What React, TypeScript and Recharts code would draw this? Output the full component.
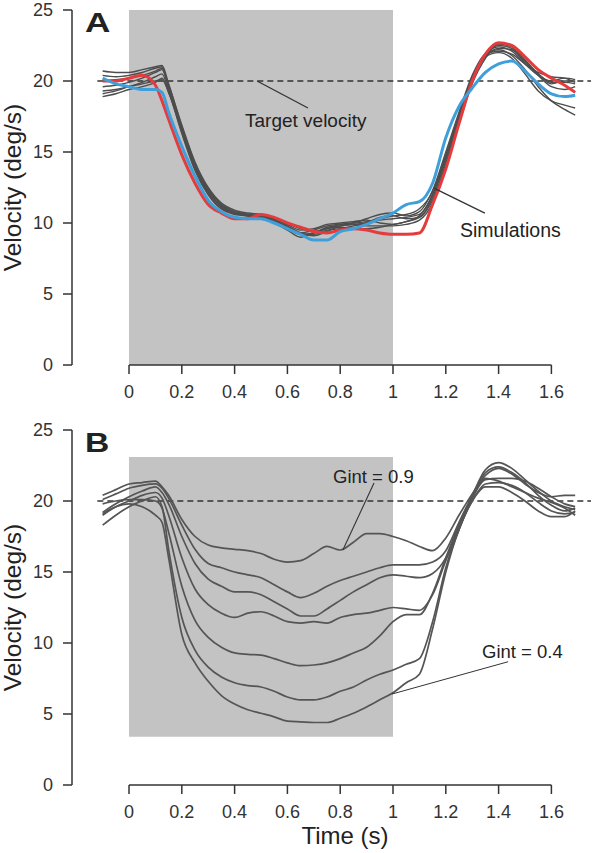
import React from 'react';
import { LineChart, Line, XAxis, YAxis, ReferenceArea, ReferenceLine } from 'recharts';

const TIME = [-0.1,-0.05,0,0.05,0.1,0.125,0.15,0.2,0.25,0.3,0.35,0.4,0.45,0.5,0.55,0.6,0.65,0.7,0.75,0.8,0.85,0.9,0.95,1.0,1.05,1.1,1.15,1.2,1.25,1.3,1.35,1.4,1.45,1.5,1.55,1.6,1.65,1.69];

const X_TICKS = [0,0.2,0.4,0.6,0.8,1,1.2,1.4,1.6];
const Y_TICKS = [0,5,10,15,20,25];

// Panel A: simulations (gray), red and blue highlighted traces
const A_GRAY_1 = [20.7,20.6,20.6,20.8,21.0,21.1,19.8,16.8,14.2,12.4,11.3,10.8,10.6,10.5,10.4,10.0,9.6,9.4,9.6,9.9,10.0,10.1,10.3,10.5,10.6,11.0,12.2,14.8,17.6,20.3,21.9,22.4,22.1,21.2,20.4,20.0,20.2,20.1];
const A_GRAY_2 = [20.4,20.3,20.4,20.6,20.9,21.0,19.6,16.6,14.0,12.2,11.2,10.7,10.5,10.4,10.3,9.8,9.3,9.1,9.4,9.8,9.9,10.0,10.2,10.3,10.4,10.6,12.0,14.6,17.4,20.1,21.7,22.3,22.2,21.3,20.5,19.9,19.9,19.8];
const A_GRAY_3 = [20.0,20.1,20.2,20.4,20.7,20.9,19.7,16.9,14.3,12.5,11.4,10.9,10.7,10.6,10.3,9.9,9.5,9.6,9.9,10.0,10.1,10.2,10.0,9.9,10.1,10.4,11.6,14.2,17.2,20.0,21.8,22.5,22.3,21.4,20.4,19.6,19.4,19.6];
const A_GRAY_4 = [19.6,19.7,19.9,20.2,20.6,20.8,19.5,16.5,13.9,12.1,11.1,10.7,10.6,10.5,10.2,9.7,9.2,9.3,9.7,9.8,9.9,9.8,9.8,9.8,9.9,10.2,11.4,14.0,17.0,19.8,21.6,22.6,22.4,21.5,20.5,19.8,20.0,20.0];
const A_GRAY_5 = [19.3,19.4,19.6,19.9,20.3,20.5,19.3,16.3,13.7,12.0,11.0,10.6,10.5,10.4,10.1,9.6,9.2,9.2,9.5,9.6,9.8,10.0,10.4,10.5,10.3,10.4,11.8,14.4,17.3,20.1,21.8,22.2,21.8,20.8,19.6,18.6,18.0,17.6];
const A_GRAY_6 = [19.1,19.3,19.6,19.8,20.0,20.1,19.2,16.4,13.8,12.0,11.0,10.7,10.5,10.3,10.0,9.5,9.0,9.3,9.6,9.7,9.6,9.6,9.7,9.9,10.1,10.5,12.0,14.7,17.5,20.2,21.7,22.0,21.6,20.5,19.3,18.6,18.3,18.1];
const A_GRAY_7 = [18.9,19.1,19.4,19.6,19.9,20.2,19.2,16.7,14.1,12.3,11.2,10.8,10.6,10.4,10.2,9.7,9.3,9.5,9.8,9.9,10.0,10.3,10.6,10.7,10.5,10.8,12.3,15.0,17.8,20.4,21.9,22.1,21.9,21.2,20.6,20.3,20.2,19.9];
const A_RED = [20.0,20.0,20.2,20.4,19.7,18.6,17.3,14.8,12.8,11.3,10.7,10.3,10.3,10.6,10.4,10.0,9.7,9.4,9.3,9.5,9.6,9.5,9.3,9.2,9.2,9.3,11.3,13.8,17.0,20.0,21.9,22.7,22.5,21.7,20.8,20.2,19.7,19.2];
const A_BLUE = [20.2,19.8,19.6,19.4,19.4,19.2,17.8,15.4,13.3,11.6,10.8,10.4,10.3,10.3,10.0,9.6,9.2,8.8,8.8,9.4,9.6,9.9,10.3,10.7,11.3,11.5,12.8,16.0,18.2,19.5,20.6,21.2,21.4,20.7,19.8,19.1,18.9,19.0];

// Panel B: Gint series from 0.9 (top) down to 0.4 (bottom)
const B_GINT_1 = [20.4,20.8,21.2,21.3,21.4,21.0,20.4,18.7,17.5,16.9,16.7,16.6,16.5,16.3,15.9,15.7,15.8,16.3,16.8,16.55,17.1,17.7,17.7,17.5,17.2,16.8,16.5,17.4,19.0,20.5,21.8,22.3,21.9,21.2,20.6,20.3,20.4,20.4];
const B_GINT_2 = [20.1,20.5,20.9,21.1,21.2,20.9,20.2,18.3,16.6,15.6,15.3,15.0,14.8,14.6,14.1,13.6,13.2,13.5,14.0,14.4,14.7,15.0,15.3,15.5,15.5,15.5,15.7,16.5,18.5,20.4,22.2,22.7,22.3,21.5,20.7,20.0,19.6,19.4];
const B_GINT_3 = [19.2,19.8,20.3,20.7,21.0,20.6,19.8,17.5,15.6,14.5,14.0,13.6,13.6,13.4,12.9,12.4,11.9,11.9,12.4,13.0,13.6,14.1,14.6,14.8,14.7,14.6,14.9,16.0,18.2,20.3,22.0,22.4,22.0,21.3,20.4,19.7,19.3,19.5];
const B_GINT_4 = [19.0,19.6,20.0,20.4,20.6,20.2,19.0,16.0,13.8,12.7,12.1,11.8,12.1,12.2,11.9,11.5,11.4,11.5,11.4,11.8,12.0,12.1,12.3,12.5,12.4,12.3,13.4,15.8,18.0,20.2,21.5,21.6,21.6,21.4,20.9,20.3,19.8,19.6];
const B_GINT_5 = [19.8,20.0,20.1,20.1,20.0,19.5,17.8,14.0,11.6,10.4,9.7,9.3,9.2,9.15,8.9,8.6,8.4,8.45,8.6,8.9,9.3,9.7,10.5,11.5,12.0,12.0,13.5,16.0,18.3,20.2,21.6,21.4,21.0,20.6,20.2,19.9,19.5,19.0];
const B_GINT_6 = [18.3,19.0,19.6,20.0,20.3,19.6,16.6,11.8,9.5,8.3,7.6,7.2,7.0,6.9,6.6,6.2,6.0,6.0,6.2,6.6,6.9,7.4,7.8,8.1,8.5,8.9,11.5,15.3,18.0,20.0,21.2,21.3,21.1,20.6,19.9,19.3,19.1,19.2];
const B_GINT_7 = [19.1,19.6,19.8,19.6,19.0,18.5,16.0,10.6,8.6,7.3,6.3,5.7,5.3,5.05,4.8,4.5,4.45,4.4,4.4,4.7,5.05,5.5,6.0,6.5,7.2,7.8,11.0,15.0,18.0,20.0,21.0,21.0,20.6,20.0,19.3,18.9,18.9,19.3];

const A_GRAY = [A_GRAY_1, A_GRAY_2, A_GRAY_3, A_GRAY_4, A_GRAY_5, A_GRAY_6, A_GRAY_7];
const B_GINT = [B_GINT_1, B_GINT_2, B_GINT_3, B_GINT_4, B_GINT_5, B_GINT_6, B_GINT_7];

const rowsA = TIME.map((t, i) => {
  const r: any = { t, red: A_RED[i], blue: A_BLUE[i] };
  A_GRAY.forEach((s, k) => { r['g' + k] = s[i]; });
  return r;
});
const rowsB = TIME.map((t, i) => {
  const r: any = { t };
  B_GINT.forEach((s, k) => { r['b' + k] = s[i]; });
  return r;
});

const FONT = '"Liberation Sans", Arial, Helvetica, sans-serif';
const AXIS = '#333333';
const GRAY_BG = '#c2c3c2';
const X_DOMAIN = [-0.216, 1.75];

function axes(xHeight: number) {
  return [
    <XAxis key="x" dataKey="t" type="number" domain={X_DOMAIN} allowDataOverflow ticks={X_TICKS}
      interval={0} axisLine={false} tickLine={{ stroke: AXIS, strokeWidth: 1.5 }} tickSize={9} tickMargin={11}
      height={xHeight} tick={{ fill: AXIS, fontSize: 18, fontFamily: FONT }} tickFormatter={(v: number) => String(v)} />,
    <YAxis key="y" type="number" domain={[0, 25]} allowDataOverflow ticks={Y_TICKS} interval={0} width={72}
      axisLine={{ stroke: AXIS, strokeWidth: 1.5 }} tickLine={{ stroke: AXIS, strokeWidth: 1.5 }} tickSize={9}
      tickMargin={10} tick={{ fill: AXIS, fontSize: 18, fontFamily: FONT }} />,
  ];
}

export default function App() {
  return (
    <div style={{ position: 'absolute', left: 0, top: 0, width: 592, height: 853, background: '#fff', fontFamily: FONT }}>
      <div style={{ position: 'absolute', left: 0, top: 0 }}>
        <LineChart width={592} height={412} data={rowsA} margin={{ top: 10, right: 1, bottom: 0, left: 0 }}>
          {axes(47)}
          <ReferenceArea x1={0} x2={1} y1={0} y2={25} fill={GRAY_BG} fillOpacity={1} stroke="none" />
          <ReferenceLine segment={[{ x: 0, y: 0 }, { x: 1.6, y: 0 }]} stroke={AXIS} strokeWidth={1.5} />
          <ReferenceLine segment={[{ x: -0.12, y: 20 }, { x: 1.75, y: 20 }]} stroke={AXIS} strokeWidth={1.5} strokeDasharray="6 4" />
          {A_GRAY.map((_, k) => (
            <Line key={'g' + k} dataKey={'g' + k} type="monotone" stroke="#4d4d4d" strokeWidth={1.4} dot={false} isAnimationActive={false} />
          ))}
          <Line dataKey="red" type="monotone" stroke="#e63b3c" strokeWidth={3} dot={false} isAnimationActive={false} />
          <Line dataKey="blue" type="monotone" stroke="#3f9fda" strokeWidth={3} dot={false} isAnimationActive={false} />
          <ReferenceLine segment={[{ x: 0.485, y: 20.0 }, { x: 0.678, y: 18.1 }]} stroke={AXIS} strokeWidth={1.3} />
          <ReferenceLine segment={[{ x: 1.155, y: 12.46 }, { x: 1.348, y: 10.7 }]} stroke={AXIS} strokeWidth={1.3} />
        </LineChart>
      </div>
      <div style={{ position: 'absolute', left: 0, top: 420 }}>
        <LineChart width={592} height={433} data={rowsB} margin={{ top: 10, right: 1, bottom: 0, left: 0 }}>
          {axes(68)}
          <ReferenceArea x1={0} x2={1} y1={3.4} y2={23.1} fill={GRAY_BG} fillOpacity={1} stroke="none" />
          <ReferenceLine segment={[{ x: 0, y: 0 }, { x: 1.6, y: 0 }]} stroke={AXIS} strokeWidth={1.5} />
          <ReferenceLine segment={[{ x: -0.12, y: 20 }, { x: 1.75, y: 20 }]} stroke={AXIS} strokeWidth={1.5} strokeDasharray="6 4" />
          {B_GINT.map((_, k) => (
            <Line key={'b' + k} dataKey={'b' + k} type="monotone" stroke="#555555" strokeWidth={1.7} dot={false} isAnimationActive={false} />
          ))}
          <ReferenceLine segment={[{ x: 0.928, y: 21.27 }, { x: 0.81, y: 16.55 }]} stroke={AXIS} strokeWidth={1.1} />
          <ReferenceLine segment={[{ x: 1.436, y: 8.68 }, { x: 0.995, y: 6.4 }]} stroke={AXIS} strokeWidth={1.0} />
        </LineChart>
      </div>
      <svg width={592} height={853} style={{ position: 'absolute', left: 0, top: 0, pointerEvents: 'none' }}>
        <g fontFamily={FONT} fill="#222">
          <text x={85} y={32} fontSize={27} fontWeight="bold" transform="translate(85,0) scale(1.3,1) translate(-85,0)">A</text>
          <text x={85} y={452} fontSize={28} fontWeight="bold" transform="translate(85,0) scale(1.2,1) translate(-85,0)">B</text>
          <text x={245} y={127} fontSize={19}>Target velocity</text>
          <text x={460} y={237} fontSize={19.5}>Simulations</text>
          <text x={333} y={483} fontSize={18.5}>Gint = 0.9</text>
          <text x={482} y={658} fontSize={18.5}>Gint = 0.4</text>
          <text x={345} y={844} fontSize={24} textAnchor="middle">Time (s)</text>
          <text transform="translate(21,187.5) rotate(-90)" fontSize={24.5} textAnchor="middle">Velocity (deg/s)</text>
          <text transform="translate(21,607.5) rotate(-90)" fontSize={24.5} textAnchor="middle">Velocity (deg/s)</text>
        </g>
      </svg>
    </div>
  );
}
